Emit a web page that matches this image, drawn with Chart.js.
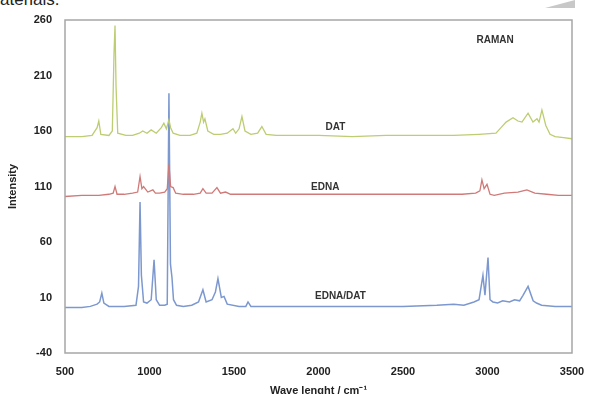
<!DOCTYPE html>
<html>
<head>
<meta charset="utf-8">
<script src="https://cdn.jsdelivr.net/npm/chart.js@4.4.1/dist/chart.umd.min.js"></script>
<style>
  html, body { margin: 0; padding: 0; background: #fff; }
  #wrap { position: relative; width: 590px; height: 394px; overflow: hidden; }
  #cut { position: absolute; left: 0; top: -10px; font: 17px "Liberation Sans", Arial, sans-serif; color: #222; }
  #curl { position: absolute; left: 545px; top: 0; width: 0; height: 0;
          border-left: 30px solid transparent; border-bottom: 8px solid #c8c8c8; }
  canvas { position: absolute; left: 0; top: 0; }
</style>
</head>
<body>
<div id="wrap">
  <div id="cut">aterials.</div>
  <div id="curl"></div>
  <canvas id="chart" width="590" height="394"></canvas>
</div>
<script>
// Raman spectra (wavenumber / intensity)
const datX = [500, 600, 660, 690, 700, 712, 760, 780, 790, 796, 802, 812, 860, 900, 940, 960, 985, 1010, 1040, 1070, 1085, 1100, 1115, 1125, 1140, 1180, 1240, 1280, 1300, 1310, 1320, 1328, 1345, 1380, 1420, 1460, 1494, 1510, 1530, 1547, 1565, 1600, 1640, 1665, 1690, 1750, 1850, 2000, 2200, 2400, 2600, 2800, 2950, 3050, 3080, 3110, 3151, 3180, 3204, 3240, 3269, 3293, 3305, 3322, 3345, 3370, 3400, 3450, 3500];
const datY = [155, 155, 156, 163, 169, 157, 156, 160, 230, 255, 200, 158, 156, 156, 158, 160, 158, 161, 158, 163, 167, 162, 170, 163, 158, 156, 156, 158, 168, 176, 168, 171, 160, 157, 157, 158, 162, 158, 162, 173, 160, 157, 158, 164, 157, 156, 156, 156, 155, 156, 156, 156, 157, 158, 163, 168, 172, 169, 168, 176, 168, 171, 168, 179, 165, 157, 155, 154, 153];

const ednaX = [500, 600, 700, 760, 785, 796, 808, 850, 900, 930, 944, 955, 965, 990, 1020, 1035, 1060, 1090, 1105, 1115, 1125, 1140, 1155, 1200, 1260, 1300, 1316, 1335, 1370, 1399, 1420, 1450, 1480, 1550, 1700, 1900, 2200, 2500, 2700, 2850, 2930, 2955, 2967, 2980, 2997, 3015, 3040, 3100, 3180, 3233, 3280, 3350, 3420, 3500];
const ednaY = [101, 102, 102, 103, 104, 110, 103, 103, 104, 105, 119, 108, 110, 105, 107, 104, 104, 105, 108, 130, 110, 109, 104, 103, 103, 104, 108, 104, 104, 109, 104, 105, 103, 103, 103, 103, 103, 103, 103, 103, 104, 106, 116, 108, 112, 103, 102, 104, 105, 107, 104, 103, 102, 102];

const mixX = [500, 600, 650, 690, 705, 718, 730, 760, 850, 920, 935, 944, 952, 965, 985, 1010, 1027, 1040, 1060, 1090, 1105, 1115, 1124, 1133, 1142, 1160, 1200, 1250, 1290, 1316, 1335, 1370, 1390, 1405, 1425, 1441, 1460, 1530, 1570, 1583, 1600, 1700, 1900, 2200, 2500, 2700, 2800, 2860, 2920, 2950, 2973, 2985, 3003, 3015, 3032, 3060, 3090, 3130, 3160, 3190, 3210, 3240, 3270, 3290, 3320, 3400, 3500];
const mixY = [1, 1, 2, 4, 6, 14, 5, 2, 2, 3, 20, 96, 30, 6, 5, 8, 44, 8, 3, 3, 4, 194, 40, 28, 8, 3, 2, 3, 6, 17, 6, 8, 15, 27, 10, 11, 4, 2, 2, 6, 2, 2, 2, 2, 2, 3, 4, 3, 6, 8, 30, 12, 46, 8, 6, 5, 7, 6, 8, 7, 12, 20, 7, 5, 3, 2, 2];

const xTicks = [500, 1000, 1500, 2000, 2500, 3000, 3500];
const yTicks = [-40, 10, 60, 110, 160, 210, 260];

// text labels placed in data coordinates
const labels = [
  { text: "DAT", x: 2100, y: 163 },
  { text: "EDNA", x: 2040, y: 109 },
  { text: "EDNA/DAT", x: 2130, y: 11 },
  { text: "RAMAN", x: 3045, y: 242 }
];

const toPoints = (xs, ys) => xs.map((x, i) => ({ x: x, y: ys[i] }));

const frame = {
  id: "frame",
  afterDatasetsDraw(chart) {
    const { ctx, chartArea: a, scales } = chart;
    ctx.save();
    ctx.strokeStyle = "#a6a6a6";
    ctx.lineWidth = 1.5;
    ctx.strokeRect(a.left, a.top, a.right - a.left, a.bottom - a.top);
    ctx.fillStyle = "#333";
    ctx.font = "bold 10px 'Liberation Sans', Arial, sans-serif";
    ctx.textAlign = "center";
    ctx.textBaseline = "middle";
    labels.forEach(l => {
      ctx.fillText(l.text, scales.x.getPixelForValue(l.x), scales.y.getPixelForValue(l.y));
    });
    ctx.restore();
  }
};

const tickFont = { family: "'Liberation Sans', Arial, sans-serif", size: 11, weight: "bold" };

new Chart(document.getElementById("chart").getContext("2d"), {
  type: "line",
  data: {
    datasets: [
      { label: "DAT", data: toPoints(datX, datY), borderColor: "#bccd72", borderWidth: 1.3 },
      { label: "EDNA", data: toPoints(ednaX, ednaY), borderColor: "#cf7a78", borderWidth: 1.3 },
      { label: "EDNA/DAT", data: toPoints(mixX, mixY), borderColor: "#7c98cf", borderWidth: 1.5 }
    ]
  },
  options: {
    responsive: false,
    animation: false,
    elements: { point: { radius: 0 }, line: { tension: 0 } },
    layout: { padding: { left: 0, right: 18, top: 20, bottom: 0 } },
    plugins: { legend: { display: false }, tooltip: { enabled: false } },
    scales: {
      x: {
        type: "linear",
        min: 500,
        max: 3500,
        afterBuildTicks: s => { s.ticks = xTicks.map(v => ({ value: v })); },
        afterFit: s => { s.height = 41; },
        grid: { display: false },
        border: { display: false },
        ticks: { color: "#222", font: tickFont, padding: 4, maxRotation: 0, callback: v => String(v) },
        title: { display: true, text: "Wave lenght / cm⁻¹", color: "#222", font: tickFont, padding: { top: 0, bottom: -4 } }
      },
      y: {
        min: -40,
        max: 260,
        afterBuildTicks: s => { s.ticks = yTicks.map(v => ({ value: v })); },
        afterFit: s => { s.width = 65; },
        grid: { display: false },
        border: { display: false },
        ticks: { color: "#222", font: tickFont, padding: 5, callback: v => String(v) },
        title: { display: true, text: "Intensity", color: "#222", font: tickFont, padding: { top: 6, bottom: 0 } }
      }
    }
  },
  plugins: [frame]
});
</script>
</body>
</html>
